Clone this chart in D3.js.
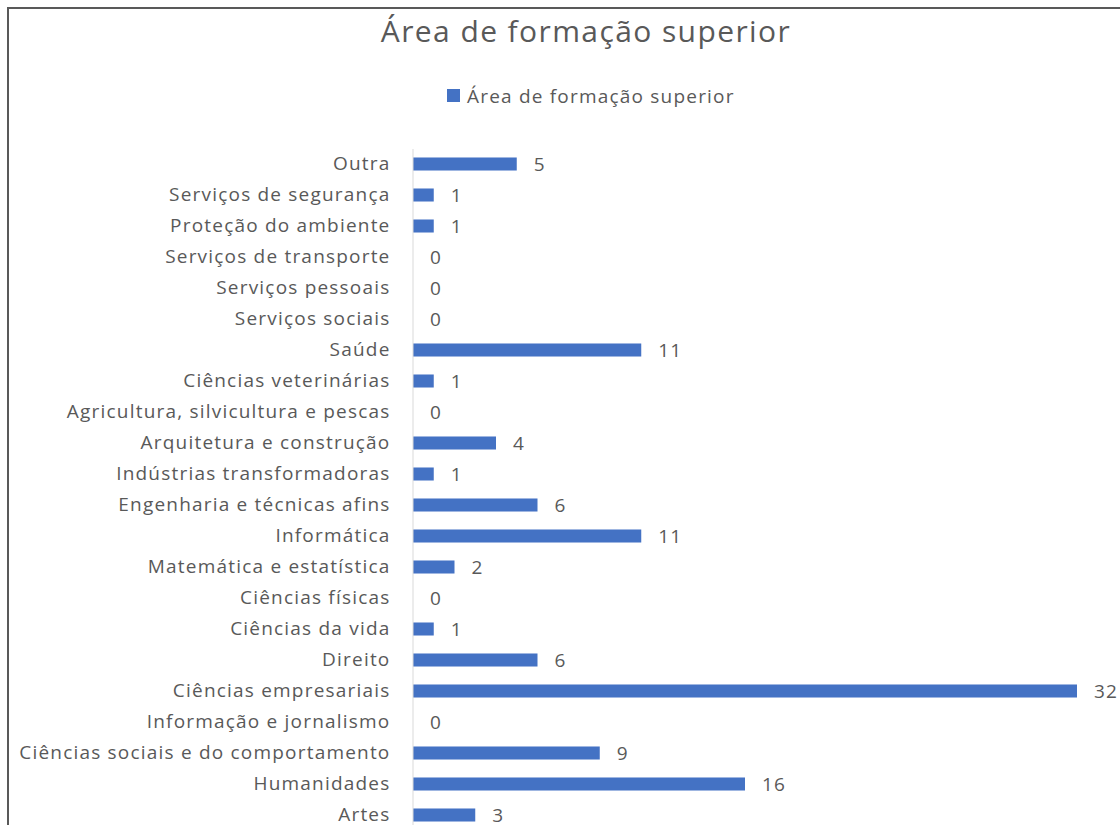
<!DOCTYPE html>
<html>
<head>
<meta charset="utf-8">
<script src="https://d3js.org/d3.v7.min.js"></script>
<style>
    body { margin: 0; background: #fff; }
    text { font-family: "Open Sans", "Noto Sans", sans-serif; fill: #595959; }
</style>
</head>
<body>
<svg width="1120" height="825"></svg>
<script>
    // categories top to bottom, as they appear in the chart
    var categories = [
        "Outra", "Serviços de segurança", "Proteção do ambiente", "Serviços de transporte",
        "Serviços pessoais ", "Serviços sociais", "Saúde", "Ciências veterinárias",
        "Agricultura, silvicultura e pescas", "Arquitetura e construção", "Indústrias transformadoras",
        "Engenharia e técnicas afins", "Informática", "Matemática e estatística", "Ciências físicas",
        "Ciências da vida", "Direito", "Ciências empresariais", "Informação e jornalismo",
        "Ciências sociais e do comportamento", "Humanidades", "Artes"
    ];
    var values = [5, 1, 1, 0, 0, 0, 11, 1, 0, 4, 1, 6, 11, 2, 0, 1, 6, 32, 0, 9, 16, 3];
    var seriesName = "Área de formação superior";
    var chartTitle = "Área de formação superior";

    var svg = d3.select("svg");

    // outer frame (cut off at right and bottom like the screenshot)
    svg.append("rect")
        .attr("x", 8).attr("y", 8)
        .attr("width", 1200).attr("height", 900)
        .attr("fill", "none")
        .attr("stroke", "#595959")
        .attr("stroke-width", 2);

    var x = d3.scaleLinear().domain([0, 32]).range([413, 1077]);
    var y = d3.scaleBand().domain(categories).range([148.5, 830.5])
        .paddingInner(0.58).paddingOuter(0.29);

    svg.append("text")
        .attr("x", 586).attr("y", 42)
        .attr("text-anchor", "middle")
        .style("font-size", "30px")
        .style("letter-spacing", "1.4px")
        .text(chartTitle);

    // legend
    var leg = svg.append("g").attr("transform", "translate(447,89)");
    leg.append("rect").attr("width", 13).attr("height", 13).attr("fill", "#4472c4");
    leg.append("text").attr("x", 20).attr("y", 7).attr("dy", "0.35em")
        .style("font-size", "19px")
        .style("letter-spacing", "1.2px")
        .text(seriesName);

    // bars
    svg.append("g").selectAll("rect").data(values).enter().append("rect")
        .attr("x", x(0))
        .attr("y", function (d, i) { return y(categories[i]); })
        .attr("width", function (d) { return x(d) - x(0); })
        .attr("height", y.bandwidth())
        .attr("fill", "#4472c4");

    // value labels
    svg.append("g").selectAll("text").data(values).enter().append("text")
        .attr("x", function (d) { return x(d) + 17; })
        .attr("y", function (d, i) { return y(categories[i]) + y.bandwidth() / 2; })
        .attr("dy", "0.35em")
        .style("font-size", "19px")
        .style("letter-spacing", "1.2px")
        .text(function (d) { return d; });

    // category axis
    var axis = svg.append("g")
        .attr("transform", "translate(412.5,0)")
        .call(d3.axisLeft(y).tickSize(0).tickPadding(22));
    axis.select(".domain").attr("stroke", "#d9d9d9");
    axis.selectAll("text")
        .style("font-size", "19px")
        .style("letter-spacing", "1.2px")
        .style("font-family", "'Open Sans', 'Noto Sans', sans-serif")
        .attr("fill", "#595959");
</script>
</body>
</html>
